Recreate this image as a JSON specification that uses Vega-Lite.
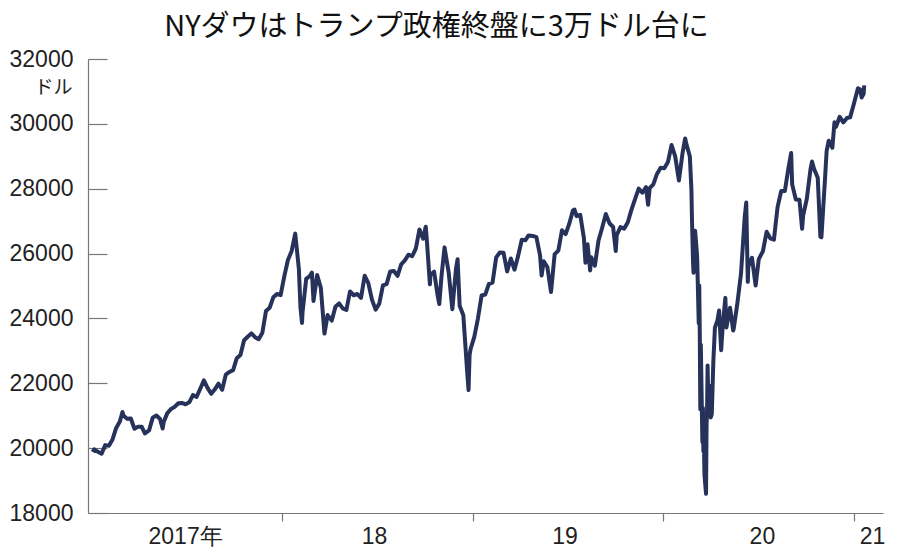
{
 "$schema": "https://vega.github.io/schema/vega-lite/v6.json",
 "width": 795,
 "height": 454,
 "autosize": "none",
 "padding": {"left": 88, "top": 59, "right": 17, "bottom": 44},
 "background": "white",
 "config": {"view": {"stroke": null}},
 "title": {"text": "NYダウはトランプ政権終盤に3万ドル台に", "font": "Noto Sans CJK JP", "fontSize": 29, "fontWeight": "normal", "color": "#111111", "anchor": "middle", "frame": "group", "dx": -49, "offset": 6},
 "data": {"values": [
  {"date":"2017-01-03","v":19882},{"date":"2017-01-06","v":19964},{"date":"2017-01-13","v":19886},{"date":"2017-01-20","v":19827},{"date":"2017-01-27","v":20093},{"date":"2017-02-03","v":20071},{"date":"2017-02-10","v":20269},{"date":"2017-02-17","v":20624},{"date":"2017-02-24","v":20822},{"date":"2017-03-01","v":21115},{"date":"2017-03-03","v":21005},{"date":"2017-03-10","v":20903},{"date":"2017-03-17","v":20915},{"date":"2017-03-24","v":20597},{"date":"2017-03-31","v":20663},{"date":"2017-04-07","v":20656},{"date":"2017-04-13","v":20453},{"date":"2017-04-21","v":20548},{"date":"2017-04-28","v":20941},{"date":"2017-05-05","v":21007},{"date":"2017-05-12","v":20897},{"date":"2017-05-17","v":20607},{"date":"2017-05-19","v":20805},{"date":"2017-05-26","v":21080},{"date":"2017-06-02","v":21206},{"date":"2017-06-09","v":21272},{"date":"2017-06-16","v":21384},{"date":"2017-06-23","v":21395},{"date":"2017-06-30","v":21350},{"date":"2017-07-07","v":21414},{"date":"2017-07-14","v":21638},{"date":"2017-07-21","v":21580},{"date":"2017-07-28","v":21830},{"date":"2017-08-04","v":22092},{"date":"2017-08-11","v":21858},{"date":"2017-08-18","v":21675},{"date":"2017-08-25","v":21814},{"date":"2017-09-01","v":21988},{"date":"2017-09-08","v":21798},{"date":"2017-09-15","v":22268},{"date":"2017-09-22","v":22350},{"date":"2017-09-29","v":22405},{"date":"2017-10-06","v":22774},{"date":"2017-10-13","v":22871},{"date":"2017-10-20","v":23329},{"date":"2017-10-27","v":23434},{"date":"2017-11-03","v":23539},{"date":"2017-11-10","v":23422},{"date":"2017-11-17","v":23358},{"date":"2017-11-24","v":23558},{"date":"2017-12-01","v":24231},{"date":"2017-12-08","v":24329},{"date":"2017-12-15","v":24651},{"date":"2017-12-22","v":24754},{"date":"2017-12-29","v":24719},
  {"date":"2018-01-05","v":25295},{"date":"2018-01-12","v":25803},{"date":"2018-01-19","v":26071},{"date":"2018-01-26","v":26616},{"date":"2018-02-02","v":25521},{"date":"2018-02-05","v":24346},{"date":"2018-02-08","v":23860},{"date":"2018-02-09","v":24191},{"date":"2018-02-16","v":25219},{"date":"2018-02-23","v":25310},{"date":"2018-02-27","v":25410},{"date":"2018-03-02","v":24538},{"date":"2018-03-09","v":25336},{"date":"2018-03-16","v":24946},{"date":"2018-03-23","v":23533},{"date":"2018-03-29","v":24103},{"date":"2018-04-06","v":23933},{"date":"2018-04-13","v":24360},{"date":"2018-04-20","v":24463},{"date":"2018-04-27","v":24311},{"date":"2018-05-04","v":24263},{"date":"2018-05-11","v":24831},{"date":"2018-05-18","v":24715},{"date":"2018-05-25","v":24753},{"date":"2018-06-01","v":24635},{"date":"2018-06-08","v":25317},{"date":"2018-06-15","v":25090},{"date":"2018-06-22","v":24581},{"date":"2018-06-29","v":24271},{"date":"2018-07-06","v":24456},{"date":"2018-07-13","v":25019},{"date":"2018-07-20","v":25058},{"date":"2018-07-27","v":25451},{"date":"2018-08-03","v":25463},{"date":"2018-08-10","v":25313},{"date":"2018-08-17","v":25669},{"date":"2018-08-24","v":25790},{"date":"2018-08-31","v":25965},{"date":"2018-09-07","v":25917},{"date":"2018-09-14","v":26154},{"date":"2018-09-21","v":26743},{"date":"2018-09-28","v":26458},{"date":"2018-10-03","v":26828},{"date":"2018-10-05","v":26447},{"date":"2018-10-11","v":25052},{"date":"2018-10-12","v":25340},{"date":"2018-10-19","v":25444},{"date":"2018-10-26","v":24688},{"date":"2018-10-29","v":24443},{"date":"2018-11-02","v":25270},{"date":"2018-11-08","v":26191},{"date":"2018-11-16","v":25413},{"date":"2018-11-23","v":24285},{"date":"2018-11-30","v":25538},{"date":"2018-12-03","v":25826},{"date":"2018-12-07","v":24389},{"date":"2018-12-14","v":24100},{"date":"2018-12-21","v":22445},{"date":"2018-12-24","v":21792},{"date":"2018-12-26","v":22878},{"date":"2018-12-28","v":23062},
  {"date":"2019-01-04","v":23433},{"date":"2019-01-11","v":23996},{"date":"2019-01-18","v":24706},{"date":"2019-01-25","v":24737},{"date":"2019-02-01","v":25064},{"date":"2019-02-08","v":25106},{"date":"2019-02-15","v":25883},{"date":"2019-02-22","v":26031},{"date":"2019-03-01","v":26026},{"date":"2019-03-08","v":25450},{"date":"2019-03-15","v":25849},{"date":"2019-03-22","v":25502},{"date":"2019-03-29","v":25929},{"date":"2019-04-05","v":26425},{"date":"2019-04-12","v":26412},{"date":"2019-04-18","v":26559},{"date":"2019-04-26","v":26543},{"date":"2019-05-03","v":26505},{"date":"2019-05-10","v":25942},{"date":"2019-05-13","v":25325},{"date":"2019-05-17","v":25764},{"date":"2019-05-24","v":25586},{"date":"2019-05-31","v":24815},{"date":"2019-06-07","v":25984},{"date":"2019-06-14","v":26090},{"date":"2019-06-21","v":26719},{"date":"2019-06-28","v":26600},{"date":"2019-07-05","v":26922},{"date":"2019-07-12","v":27332},{"date":"2019-07-15","v":27359},{"date":"2019-07-19","v":27154},{"date":"2019-07-26","v":27192},{"date":"2019-08-02","v":26485},{"date":"2019-08-05","v":25718},{"date":"2019-08-09","v":26287},{"date":"2019-08-14","v":25479},{"date":"2019-08-16","v":25886},{"date":"2019-08-23","v":25629},{"date":"2019-08-30","v":26403},{"date":"2019-09-06","v":26797},{"date":"2019-09-13","v":27220},{"date":"2019-09-20","v":26935},{"date":"2019-09-27","v":26820},{"date":"2019-10-02","v":26078},{"date":"2019-10-04","v":26573},{"date":"2019-10-11","v":26817},{"date":"2019-10-18","v":26770},{"date":"2019-10-25","v":26958},{"date":"2019-11-01","v":27347},{"date":"2019-11-08","v":27681},{"date":"2019-11-15","v":28005},{"date":"2019-11-22","v":27876},{"date":"2019-11-29","v":28051},{"date":"2019-12-03","v":27503},{"date":"2019-12-06","v":28015},{"date":"2019-12-13","v":28135},{"date":"2019-12-20","v":28455},{"date":"2019-12-27","v":28645},
  {"date":"2020-01-03","v":28634},{"date":"2020-01-10","v":28824},{"date":"2020-01-17","v":29348},{"date":"2020-01-24","v":28990},{"date":"2020-01-31","v":28256},{"date":"2020-02-07","v":29103},{"date":"2020-02-12","v":29551},{"date":"2020-02-14","v":29398},{"date":"2020-02-21","v":28992},{"date":"2020-02-24","v":27961},{"date":"2020-02-25","v":27081},{"date":"2020-02-27","v":25766},{"date":"2020-02-28","v":25409},{"date":"2020-03-02","v":26703},{"date":"2020-03-05","v":26121},{"date":"2020-03-06","v":25865},{"date":"2020-03-09","v":23851},{"date":"2020-03-10","v":25018},{"date":"2020-03-11","v":23553},{"date":"2020-03-12","v":21200},{"date":"2020-03-13","v":23185},{"date":"2020-03-16","v":20188},{"date":"2020-03-17","v":21237},{"date":"2020-03-18","v":19899},{"date":"2020-03-19","v":20087},{"date":"2020-03-20","v":19174},{"date":"2020-03-23","v":18591},{"date":"2020-03-24","v":20705},{"date":"2020-03-25","v":21200},{"date":"2020-03-26","v":22552},{"date":"2020-03-27","v":21637},{"date":"2020-03-31","v":21917},{"date":"2020-04-01","v":20943},{"date":"2020-04-03","v":21053},{"date":"2020-04-06","v":22680},{"date":"2020-04-09","v":23719},{"date":"2020-04-14","v":23949},{"date":"2020-04-17","v":24242},{"date":"2020-04-21","v":23019},{"date":"2020-04-24","v":23775},{"date":"2020-04-29","v":24634},{"date":"2020-05-01","v":23724},{"date":"2020-05-08","v":24331},{"date":"2020-05-14","v":23625},{"date":"2020-05-15","v":23685},{"date":"2020-05-22","v":24465},{"date":"2020-05-29","v":25383},{"date":"2020-06-05","v":27111},{"date":"2020-06-08","v":27572},{"date":"2020-06-11","v":25128},{"date":"2020-06-12","v":25606},{"date":"2020-06-19","v":25871},{"date":"2020-06-26","v":25016},{"date":"2020-07-02","v":25827},{"date":"2020-07-10","v":26075},{"date":"2020-07-17","v":26672},{"date":"2020-07-24","v":26470},{"date":"2020-07-31","v":26428},{"date":"2020-08-07","v":27433},{"date":"2020-08-14","v":27931},{"date":"2020-08-21","v":27930},{"date":"2020-08-28","v":28654},{"date":"2020-09-02","v":29100},{"date":"2020-09-04","v":28133},{"date":"2020-09-11","v":27666},{"date":"2020-09-18","v":27657},{"date":"2020-09-23","v":26763},{"date":"2020-09-25","v":27174},{"date":"2020-10-02","v":27683},{"date":"2020-10-09","v":28587},{"date":"2020-10-12","v":28837},{"date":"2020-10-16","v":28606},{"date":"2020-10-23","v":28336},{"date":"2020-10-28","v":26520},{"date":"2020-10-30","v":26502},{"date":"2020-11-06","v":28323},{"date":"2020-11-09","v":29158},{"date":"2020-11-13","v":29480},{"date":"2020-11-20","v":29263},{"date":"2020-11-24","v":30046},{"date":"2020-11-27","v":29910},{"date":"2020-12-04","v":30218},{"date":"2020-12-11","v":30046},{"date":"2020-12-18","v":30179},{"date":"2020-12-24","v":30200},{"date":"2020-12-31","v":30606},
  {"date":"2021-01-08","v":31098},{"date":"2021-01-12","v":31068},{"date":"2021-01-15","v":30814},{"date":"2021-01-19","v":30930},{"date":"2021-01-20","v":31188}
 ]},
 "resolve": {"axis": {"x": "independent"}},
 "layer": [
  {
   "mark": {"type": "line", "color": "#27325a", "strokeWidth": 4, "strokeJoin": "round"},
   "encoding": {
    "x": {"field": "date", "type": "temporal",
      "scale": {"domain": ["2016-12-25", "2021-02-25"]},
      "axis": {"orient": "bottom", "title": null, "grid": false, "labels": false,
        "values": [{"year": 2018, "month": 1, "date": 1}, {"year": 2019, "month": 1, "date": 1}, {"year": 2020, "month": 1, "date": 1}, {"year": 2021, "month": 1, "date": 1}],
        "tickSize": 8, "tickColor": "#777777", "domainColor": "#777777", "tickWidth": 1.2, "domainWidth": 1.2}},
    "y": {"field": "v", "type": "quantitative",
      "scale": {"domain": [18000, 32000], "nice": false, "zero": false},
      "axis": {"values": [18000, 20000, 22000, 24000, 26000, 28000, 30000, 32000], "format": "d", "grid": false,
        "tickSize": -19, "tickColor": "#777777", "domainColor": "#777777", "tickWidth": 1.2, "domainWidth": 1.2,
        "labelFont": "Liberation Sans", "labelFontSize": 23, "labelColor": "#222222", "labelPadding": 34,
        "title": "ドル", "titleAngle": 0, "titleFont": "Noto Sans CJK JP", "titleFontSize": 19, "titleFontWeight": "normal", "titleColor": "#222222",
        "titleX": -35, "titleY": 28, "titleAlign": "center", "titleBaseline": "middle"}}
   }
  },
  {
   "mark": {"type": "point", "opacity": 0},
   "encoding": {
    "x": {"field": "date", "type": "temporal",
      "axis": {"orient": "bottom", "title": null, "grid": false, "ticks": false, "domain": false,
        "values": [{"year": 2017, "month": 6, "date": 29}, {"year": 2018, "month": 6, "date": 26}, {"year": 2019, "month": 6, "date": 26}, {"year": 2020, "month": 7, "date": 8}, {"year": 2021, "month": 2, "date": 4}],
        "labelExpr": "year(datum.value) == 2017 ? '2017年' : timeFormat(datum.value, '%y')",
        "labelFont": "Liberation Sans", "labelFontSize": 23, "labelColor": "#222222", "labelPadding": 12, "labelFlush": false, "labelOverlap": false}},
    "y": {"field": "v", "type": "quantitative"}
   }
  }
 ]
}
